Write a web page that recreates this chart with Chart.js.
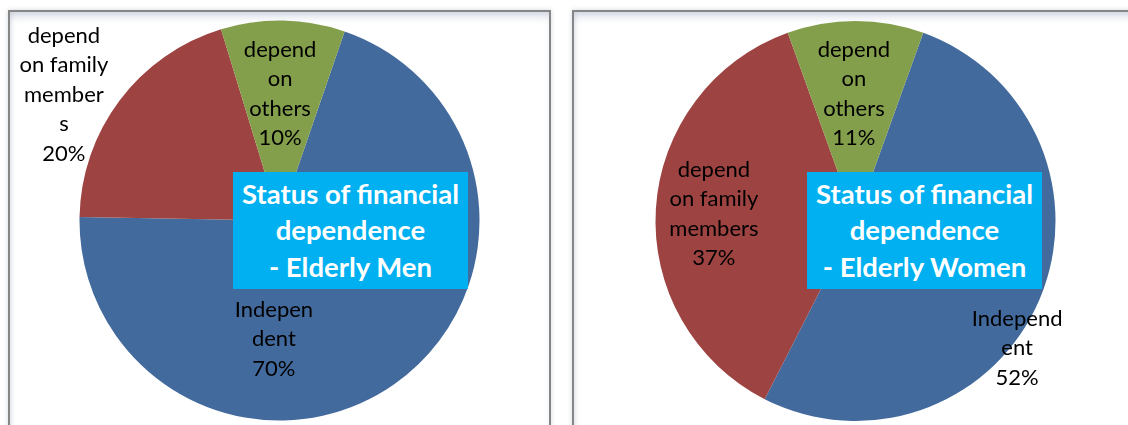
<!DOCTYPE html>
<html>
<head>
<meta charset="utf-8">
<script src="https://cdn.jsdelivr.net/npm/chart.js"></script>
<style>
  body { margin:0; width:1128px; height:425px; overflow:hidden; background:#fff; font-family:Lato, sans-serif; }
  .panel { position:absolute; top:10px; height:440px; border:2px solid #868686; box-sizing:border-box;
    box-shadow: inset 0 8px 9px -4px rgba(170,180,200,0.55), inset 4px 0 5px -3px rgba(170,180,200,0.4), 0 0 5px rgba(160,170,190,0.45); }
  #p1 { left:8px; width:543px; }
  #p2 { left:572px; width:600px; }
  canvas { position:absolute; top:0; }
  .ttl { position:absolute; top:172px; width:235px; height:117px; background:#00b0f0; color:#fff;
    font-weight:700; font-size:27.5px; line-height:36.5px; text-align:center; display:flex; align-items:center; justify-content:center; }
</style>
</head>
<body>
<div class="panel" id="p1"></div>
<div class="panel" id="p2"></div>
<div style="position:absolute;left:0;top:0;width:560px;height:425px"><canvas id="men"></canvas></div>
<div style="position:absolute;left:560px;top:0;width:568px;height:425px"><canvas id="women"></canvas></div>
<div class="ttl" style="left:233px">Status of financial<br>dependence<br>- Elderly Men</div>
<div class="ttl" style="left:807px">Status of financial<br>dependence<br>- Elderly Women</div>
<script>
const categories = ['Independent', 'depend on family members', 'depend on others'];
const menValues = [70, 20, 10];
const womenValues = [52, 37, 11];
const colors = ['#436a9d', '#9d4341', '#849f4b'];

// label text as Excel wrapped it
const menLabels = [['Indepen', 'dent', '70%'], ['depend', 'on family', 'member', 's', '20%'], ['depend', 'on', 'others', '10%']];
const womenLabels = [['Independ', 'ent', '52%'], ['depend', 'on family', 'members', '37%'], ['depend', 'on', 'others', '11%']];

// label centres, in radius units from the pie centre
const menLabelPos = [[-0.028, 0.593], [-1.078, -0.628], [0.003, -0.633]];
const womenLabelPos = [[0.808, 0.635], [-0.708, -0.035], [-0.008, -0.635]];

const sliceLabels = {
  id: 'sliceLabels',
  afterDatasetsDraw(chart, args, opts) {
    const ctx = chart.ctx;
    const arcs = chart.getDatasetMeta(0).data;
    ctx.save();
    ctx.font = '22px Lato';
    ctx.fillStyle = '#000';
    ctx.textAlign = 'center';
    ctx.textBaseline = 'middle';
    arcs.forEach((arc, i) => {
      const lines = opts.lines[i];
      const cx = arc.x + opts.pos[i][0] * arc.outerRadius;
      const cy = arc.y + opts.pos[i][1] * arc.outerRadius;
      const lh = 29.5;
      lines.forEach((t, j) => ctx.fillText(t, cx, cy + (j - (lines.length - 1) / 2) * lh));
    });
    ctx.restore();
  }
};

function makePie(id, values, rotation, lines, pos, padding) {
  new Chart(document.getElementById(id), {
    type: 'pie',
    data: { labels: categories, datasets: [{ data: values, backgroundColor: colors, borderWidth: 0 }] },
    options: {
      responsive: true,
      maintainAspectRatio: false,
      animation: false,
      rotation: rotation,
      layout: { padding: padding },
      plugins: {
        legend: { display: false },
        tooltip: { enabled: false },
        sliceLabels: { lines: lines, pos: pos }
      }
    },
    plugins: [sliceLabels]
  });
}

makePie('men', menValues, 19, menLabels, menLabelPos, { left: 79.5, right: 80.5, top: 20.5, bottom: 4.5 });
makePie('women', womenValues, 19.8, womenLabels, womenLabelPos, { left: 95.5, right: 72.5, top: 21, bottom: 4 });
</script>
</body>
</html>
